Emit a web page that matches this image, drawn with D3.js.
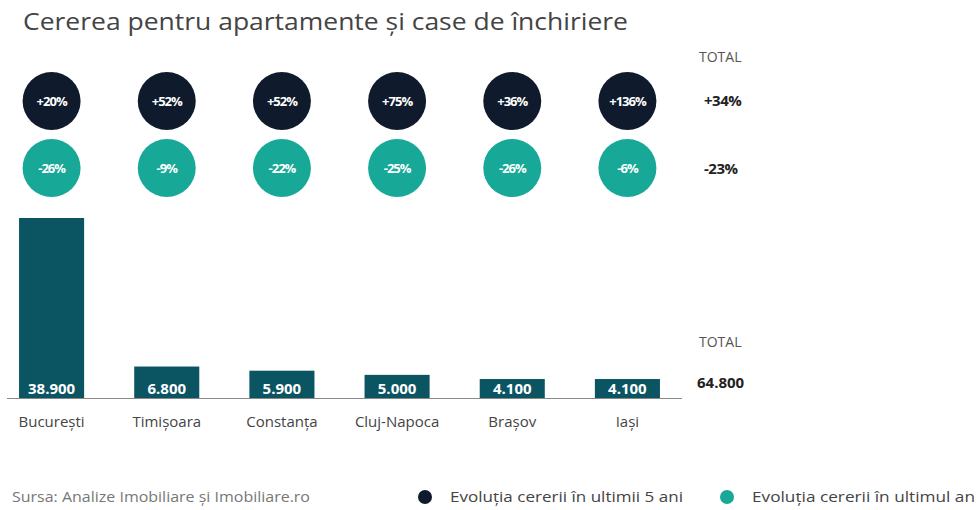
<!DOCTYPE html>
<html>
<head>
<meta charset="utf-8">
<script src="https://cdn.jsdelivr.net/npm/d3@7"></script>
<style>
  body { margin: 0; background: #fff; }
  svg { display: block; font-family: "Open Sans", "Noto Sans", sans-serif; }
</style>
</head>
<body>
<svg width="977" height="510"></svg>
<script>
// data
var cities = ["București", "Timișoara", "Constanța", "Cluj-Napoca", "Brașov", "Iași"];
var demand = [38900, 6800, 5900, 5000, 4100, 4100];
var change5y = ["+20%", "+52%", "+52%", "+75%", "+36%", "+136%"];
var change1y = ["-26%", "-9%", "-22%", "-25%", "-26%", "-6%"];
var totalDemand = "64.800";
var total5y = "+34%";
var total1y = "-23%";

var svg = d3.select("svg");

var navy = "#0f1b2c",
    teal = "#17a898",
    barColour = "#0b5563";

var fmt = function (v) { return d3.format(",")(v).replace(/,/g, "."); };

// scales
var x = d3.scaleBand()
    .domain(cities)
    .range([-6, 685])
    .paddingInner(0.435)
    .paddingOuter(0.2175);

var baseY = 398;
var y = d3.scaleLinear()
    .domain([0, 38900])
    .range([baseY, 218]);

// title
svg.append("text")
    .attr("x", 23)
    .attr("y", 30)
    .attr("fill", "#444")
    .style("font-size", "23px")
    .attr("textLength", 605)
    .attr("lengthAdjust", "spacingAndGlyphs")
    .text("Cererea pentru apartamente și case de închiriere");

// circles, row per series
var rows = [
    { vals: change5y, cy: 101, fill: navy },
    { vals: change1y, cy: 168, fill: teal }
];

rows.forEach(function (r) {
    var g = svg.append("g");
    var c = g.selectAll("g")
        .data(cities)
        .enter().append("g")
        .attr("transform", function (d) {
            return "translate(" + (x(d) + x.bandwidth() / 2) + "," + r.cy + ")";
        });
    c.append("circle")
        .attr("r", 29)
        .attr("fill", r.fill);
    c.append("text")
        .attr("text-anchor", "middle")
        .attr("dy", "0.35em")
        .attr("fill", "#fff")
        .style("font-size", "13px")
        .style("font-weight", "bold")
        .style("letter-spacing", "-1px")
        .text(function (d, i) { return r.vals[i]; });
});

// totals on the right
svg.append("text").attr("x", 699).attr("y", 62)
    .attr("fill", "#555").style("font-size", "14px").text("TOTAL");
svg.append("text").attr("x", 704).attr("y", 106)
    .attr("fill", "#222").style("font-size", "15px").style("font-weight", "bold")
    .style("letter-spacing", "-0.5px").text(total5y);
svg.append("text").attr("x", 704).attr("y", 174)
    .attr("fill", "#222").style("font-size", "15px").style("font-weight", "bold")
    .style("letter-spacing", "-0.5px").text(total1y);
svg.append("text").attr("x", 699).attr("y", 347)
    .attr("fill", "#555").style("font-size", "14px").text("TOTAL");
svg.append("text").attr("x", 697).attr("y", 388)
    .attr("fill", "#222").style("font-size", "15px").style("font-weight", "bold")
    .text(totalDemand);

// bars
var bars = svg.append("g");
bars.selectAll("rect")
    .data(demand)
    .enter().append("rect")
    .attr("x", function (d, i) { return x(cities[i]); })
    .attr("y", function (d) { return y(d); })
    .attr("width", x.bandwidth())
    .attr("height", function (d) { return baseY - y(d); })
    .attr("fill", barColour);

bars.selectAll("text")
    .data(demand)
    .enter().append("text")
    .attr("x", function (d, i) { return x(cities[i]) + x.bandwidth() / 2; })
    .attr("y", baseY - 4)
    .attr("text-anchor", "middle")
    .attr("fill", "#fff")
    .style("font-size", "15px")
    .style("font-weight", "bold")
    .text(fmt);

// baseline
svg.append("line")
    .attr("x1", 7).attr("x2", 682)
    .attr("y1", baseY + 0.5).attr("y2", baseY + 0.5)
    .attr("stroke", "#888").attr("stroke-width", 1);

// category labels
var xAxis = svg.append("g")
    .attr("transform", "translate(0," + baseY + ")")
    .call(d3.axisBottom(x).tickSize(0).tickPadding(18));
xAxis.select(".domain").remove();
xAxis.selectAll("text")
    .attr("fill", "#444")
    .style("font-size", "15px")
    .style("font-family", "\"Open Sans\", sans-serif");

// footer: source + legend
svg.append("text").attr("x", 12).attr("y", 502)
    .attr("fill", "#777").style("font-size", "15px")
    .attr("textLength", 298)
    .attr("lengthAdjust", "spacingAndGlyphs")
    .text("Sursa: Analize Imobiliare și Imobiliare.ro");

var legend = [
    { label: "Evoluția cererii în ultimii 5 ani", fill: navy, x: 425 },
    { label: "Evoluția cererii în ultimul an", fill: teal, x: 727 }
];
var lg = svg.selectAll(".lg")
    .data(legend)
    .enter().append("g")
    .attr("class", "lg")
    .attr("transform", function (d) { return "translate(" + d.x + ",497)"; });
lg.append("circle").attr("r", 7).attr("fill", function (d) { return d.fill; });
lg.append("text")
    .attr("x", 25).attr("y", 5)
    .attr("fill", "#444").style("font-size", "15px")
    .attr("textLength", function (d, i) { return i ? 223 : 233; })
    .attr("lengthAdjust", "spacingAndGlyphs")
    .text(function (d) { return d.label; });
</script>
</body>
</html>
